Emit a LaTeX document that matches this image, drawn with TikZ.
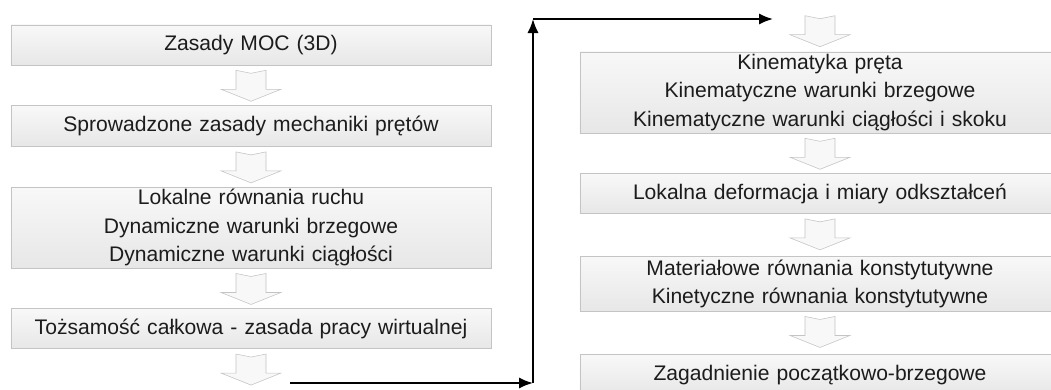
\documentclass[tikz,border=0pt]{standalone}
\usepackage{fontspec}
\setmainfont{Liberation Sans}
\usetikzlibrary{arrows.meta,positioning}

\definecolor{boxline}{HTML}{C4C4C4}
\definecolor{boxtop}{HTML}{F8F8F8}
\definecolor{boxbottom}{HTML}{E7E7E7}
\definecolor{txtgray}{HTML}{1C1C1C}

\tikzset{
  stage/.style={draw=boxline,top color=boxtop,bottom color=boxbottom,minimum width=12cm,
    text width=11.6cm,align=center,inner sep=0pt,text=txtgray,
    font=\fontsize{15}{20.2}\selectfont},
  flowdown/.pic={
    \draw[boxline,fill=boxtop] (-15,0) -- (0,3) -- (15,0) -- (15,19) -- (30,19)
      -- (0,31) -- (-30,19) -- (-15,19) -- cycle;
  }
}

\begin{document}
\begin{tikzpicture}[x=0.025cm,y=-0.025cm,>={Latex[length=3.5mm,width=2.8mm]},node distance=1cm]
\useasboundingbox (0,0) rectangle (1051,389);
\clip (0,0) rectangle (1051,389);
% left column
\node[stage,minimum height=1cm] (moc) at (251,45) {Zasady MOC (3D)};
\node[stage,minimum height=1.025cm,below=of moc] (spr) {Sprowadzone zasady mechaniki prętów};
\node[stage,minimum height=2.025cm,below=of spr] (dyn) {Lokalne równania ruchu\\Dynamiczne warunki brzegowe\\Dynamiczne warunki ciągłości};
\node[stage,minimum height=1cm,below=of dyn] (pwv) {Tożsamość całkowa - zasada pracy wirtualnej};
% right column
\node[stage,minimum height=2.025cm] (kin) at (820,92.5) {Kinematyka pręta\\Kinematyczne warunki brzegowe\\Kinematyczne warunki ciągłości i skoku};
\node[stage,minimum height=1cm,below=of kin] (def) {Lokalna deformacja i miary odkształceń};
\node[stage,minimum height=1.375cm,below=1.05cm of def] (mat) {Materiałowe równania konstytutywne\\Kinetyczne równania konstytutywne};
\node[stage,minimum height=1cm,below=1.075cm of mat] (zpb) {Zagadnienie początkowo-brzegowe};
% hollow arrows
\foreach \a in {moc,spr,dyn,pwv,kin,def,mat}
  \path (\a.south) ++(0,5) pic {flowdown};
\path (kin.north) ++(0,-36) pic {flowdown};
% jump to the right column
\coordinate (jump0) at (290,383);
\coordinate (jump1) at (533,383);
\coordinate (jump2) at (533,19);
\coordinate (jump3) at (773,19);
\draw[->,line width=1.4pt] (jump0) -- (jump1);
\draw[->,line width=1.4pt] (jump1) -- (jump2);
\draw[->,line width=1.4pt] (jump2) -- (jump3);
\end{tikzpicture}
\end{document}
